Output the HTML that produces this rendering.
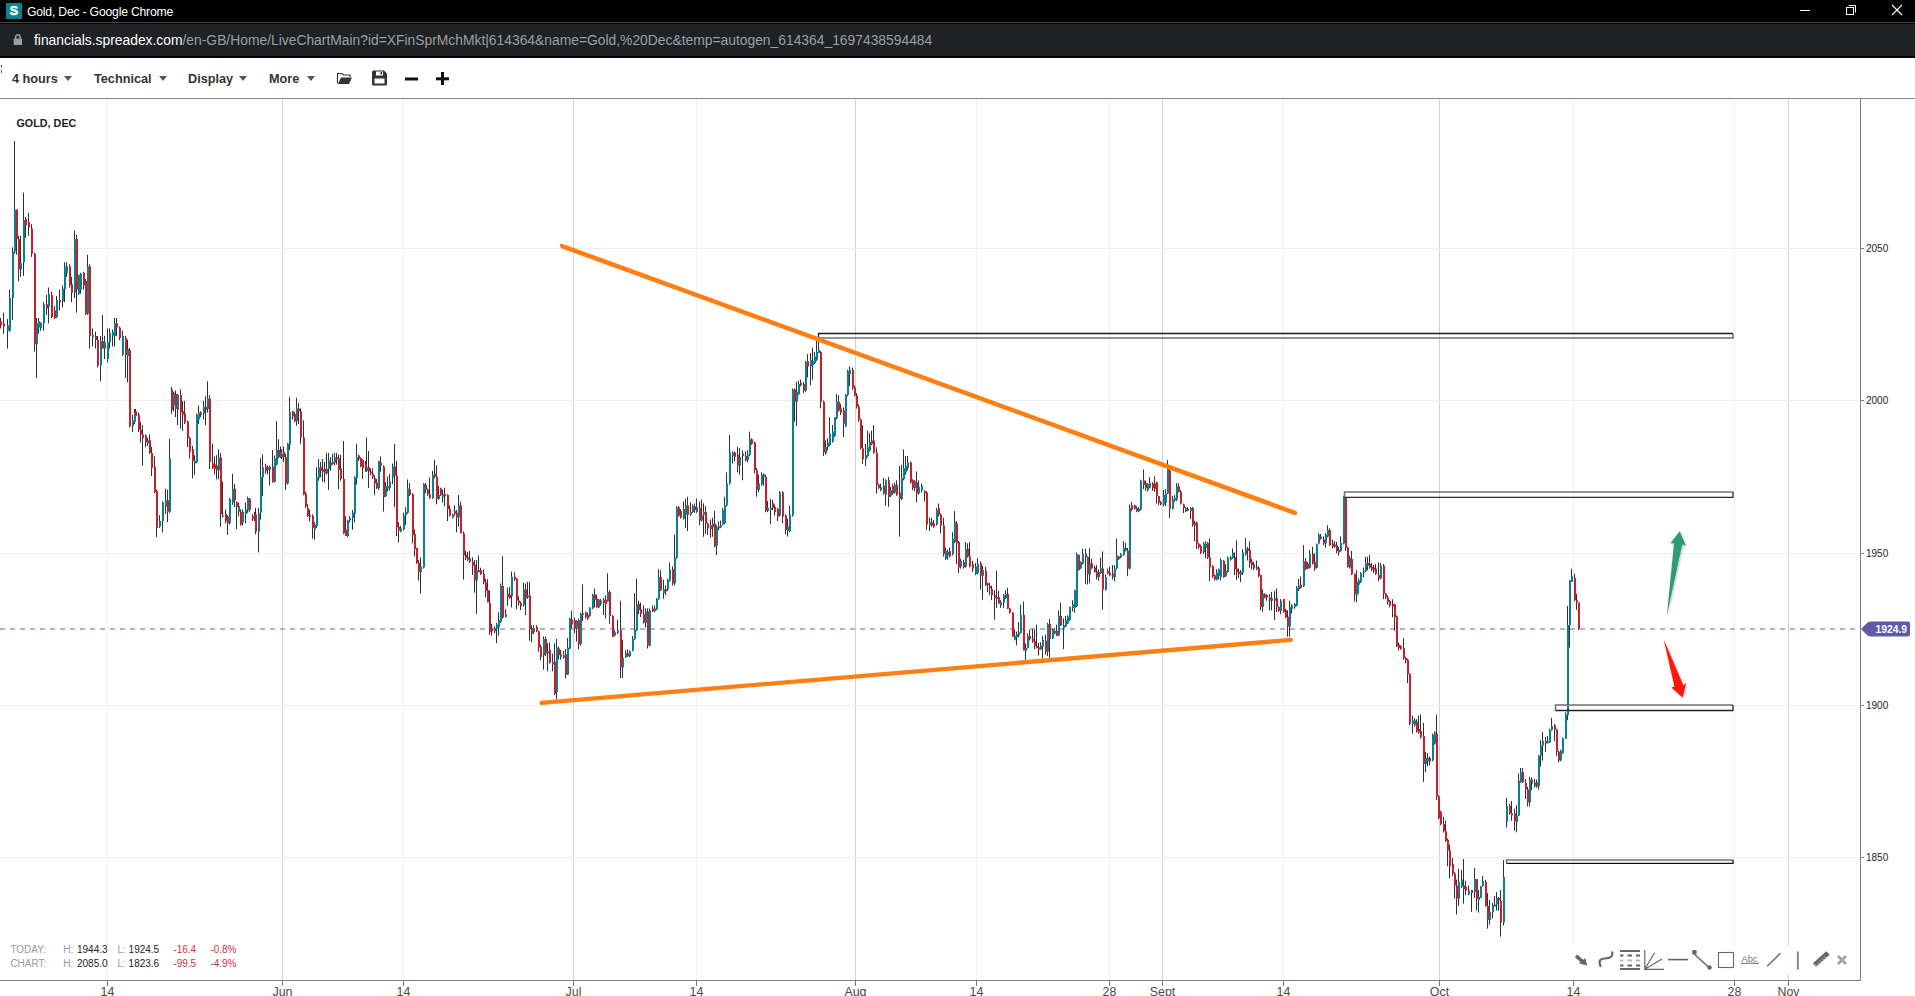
<!DOCTYPE html>
<html><head><meta charset="utf-8"><title>Gold, Dec</title>
<style>
html,body{margin:0;padding:0;width:1915px;height:996px;overflow:hidden;background:#fff;font-family:"Liberation Sans",sans-serif;}
#top{position:absolute;left:0;top:0;width:1915px;height:22px;background:#000;}
#tline{position:absolute;left:0;top:22px;width:1915px;height:1px;background:#4a4a4a;}
#tblk{position:absolute;left:0;top:23px;width:1915px;height:1px;background:#000;}
#addr{position:absolute;left:0;top:24px;width:1915px;height:32px;background:#202124;}
#ablk{position:absolute;left:0;top:56px;width:1915px;height:2px;background:#000;}
#ttl{position:absolute;left:27px;top:2.6px;color:#fff;font-size:12.2px;letter-spacing:-0.2px;line-height:18px;white-space:nowrap;}
#favi{position:absolute;left:6px;top:3px;width:16px;height:16px;background:#05838f;color:#fff;font-weight:bold;font-family:"Liberation Sans",sans-serif;font-size:12.5px;line-height:16.5px;text-align:center;-webkit-text-stroke:0.6px #fff;}
#url{position:absolute;left:34px;top:31px;font-size:13.85px;line-height:18px;color:#9aa0a6;white-space:nowrap;}
#url b{font-weight:normal;color:#fff;}
#tbar{position:absolute;left:0;top:58px;width:1915px;height:40px;background:#fff;}
#tbb{position:absolute;left:0;top:98px;width:1915px;height:1px;background:#8a8a8a;}
.mi{position:absolute;top:71px;font-size:12.7px;font-weight:bold;color:#333;line-height:16px;white-space:nowrap;}
.tri{position:absolute;top:76px;width:0;height:0;border-left:4.5px solid transparent;border-right:4.5px solid transparent;border-top:5px solid #555;}
svg{position:absolute;left:0;top:0;}
#chart text{font-family:"Liberation Sans",sans-serif;}
</style></head><body>
<div id="top"></div><div id="tline"></div><div id="tblk"></div><div id="addr"></div><div id="ablk"></div>
<div id="favi">S</div>
<div id="ttl">Gold, Dec - Google Chrome</div>
<svg width="1915" height="58" style="left:0;top:0">
 <rect x="1800" y="10" width="10" height="1" fill="#fff"/>
 <rect x="1846.5" y="7.5" width="7" height="7" fill="none" stroke="#fff" stroke-width="1"/>
 <path d="M1848.5 5.5 H1855.5 V12.5" fill="none" stroke="#fff" stroke-width="1"/>
 <path d="M1892 5 L1902 15 M1902 5 L1892 15" stroke="#fff" stroke-width="1.1"/>
 <path d="M15.6 39 v-1.6 a2.3 2.6 0 0 1 4.6 0 v1.6" fill="none" stroke="#9aa0a6" stroke-width="1.5"/>
 <rect x="13.7" y="38.6" width="8.4" height="6.4" rx="0.6" fill="#9aa0a6"/>
</svg>
<div id="url"><b>financials.spreadex.com</b>/en-GB/Home/LiveChartMain?id=XFinSprMchMkt|614364&amp;name=Gold,%20Dec&amp;temp=autogen_614364_1697438594484</div>
<div id="tbar"></div><div id="tbb"></div>
<div style="position:absolute;left:1px;top:65px;width:1px;height:1.5px;background:#503060"></div><div style="position:absolute;left:1px;top:70px;width:1px;height:2.5px;background:#4060a0"></div>
<div class="mi" style="left:12px">4 hours</div><div class="tri" style="left:64px"></div>
<div class="mi" style="left:94px">Technical</div><div class="tri" style="left:159px"></div>
<div class="mi" style="left:188px">Display</div><div class="tri" style="left:239px"></div>
<div class="mi" style="left:269px">More</div><div class="tri" style="left:307px"></div>
<svg width="1915" height="99" style="left:0;top:0">
 <path d="M337.5 83.5 V73.5 H342 L343.5 75 H350 V77" fill="none" stroke="#333" stroke-width="1.2"/>
 <path d="M338 84 L341 77.5 H352 L349 84 Z" fill="#333"/>
 <path d="M372 72 a1.5 1.5 0 0 1 1.5 -1.5 H384 L387 73.5 V84 a1.5 1.5 0 0 1 -1.5 1.5 H373.5 a1.5 1.5 0 0 1 -1.5 -1.5 Z" fill="#333"/>
 <rect x="374.5" y="78.5" width="10" height="5" fill="#fff"/>
 <rect x="376" y="71.5" width="7" height="4" fill="#fff"/>
 <rect x="380.5" y="72" width="1.5" height="2.5" fill="#333"/>
 <rect x="405" y="77.5" width="13" height="3" fill="#111"/>
 <rect x="436" y="77.3" width="13" height="3" fill="#111"/>
 <rect x="441" y="72" width="3" height="13" fill="#111"/>
</svg>
<svg id="chart" width="1915" height="996" style="left:0;top:0">
<rect x="107" y="99" width="1" height="881" fill="#f0f0f0"/>
<rect x="403" y="99" width="1" height="881" fill="#f0f0f0"/>
<rect x="696" y="99" width="1" height="881" fill="#f0f0f0"/>
<rect x="976" y="99" width="1" height="881" fill="#f0f0f0"/>
<rect x="1109" y="99" width="1" height="881" fill="#f0f0f0"/>
<rect x="1283" y="99" width="1" height="881" fill="#f0f0f0"/>
<rect x="1573" y="99" width="1" height="881" fill="#f0f0f0"/>
<rect x="1734" y="99" width="1" height="881" fill="#f0f0f0"/>
<rect x="282" y="99" width="1" height="881" fill="#d3d3d3"/>
<rect x="573" y="99" width="1" height="881" fill="#d3d3d3"/>
<rect x="855" y="99" width="1" height="881" fill="#d3d3d3"/>
<rect x="1162" y="99" width="1" height="881" fill="#d3d3d3"/>
<rect x="1439" y="99" width="1" height="881" fill="#d3d3d3"/>
<rect x="1788" y="99" width="1" height="881" fill="#d3d3d3"/>
<rect x="0" y="248" width="1860" height="1" fill="#eeeeee"/>
<rect x="0" y="400" width="1860" height="1" fill="#eeeeee"/>
<rect x="0" y="553" width="1860" height="1" fill="#eeeeee"/>
<rect x="0" y="705" width="1860" height="1" fill="#eeeeee"/>
<rect x="0" y="857" width="1860" height="1" fill="#eeeeee"/>
<text x="16.5" y="127" font-size="10.7" font-weight="bold" fill="#222" letter-spacing="0.05">GOLD, DEC</text>
<line x1="0" y1="629" x2="1860" y2="629" stroke="#b3afd9" stroke-width="1.8" stroke-dasharray="5 5"/>
<path d="M0.5 318.0V328.5M3.5 312.7V333.8M7.5 319.1V348.6M9.5 289.6V331.7M12.5 247.4V320.1M14.5 141.0V253.7M16.5 209.5V254.8M18.5 235.8V281.1M20.5 235.8V276.9M23.5 192.6V275.9M25.5 216.9V237.9M28.5 212.7V235.8M31.5 224.2V256.9M34.5 252.7V351.7M36.5 318.0V378.1M38.5 318.0V333.8M40.5 322.2V330.7M43.5 302.2V330.7M46.5 294.8V314.9M48.5 287.5V323.3M51.5 291.7V318.0M54.5 306.4V319.1M56.5 295.9V318.0M59.5 289.6V310.6M62.5 285.4V307.5M64.5 262.2V302.2M66.5 262.2V276.9M69.5 264.3V287.5M71.5 276.9V302.2M74.5 230.6V298.0M76.5 234.8V312.7M78.5 274.8V294.8M80.5 272.7V293.8M83.5 271.7V289.6M85.5 279.0V314.9M87.5 254.8V314.9M89.5 264.3V348.6M92.5 328.5V346.5M95.5 331.7V348.6M97.5 335.9V367.5M100.5 335.9V381.2M102.5 314.9V348.6M104.5 335.9V359.1M107.5 328.5V362.3M109.5 328.5V348.6M112.5 329.6V346.5M114.5 318.0V346.5M116.5 318.0V335.9M119.5 326.4V340.1M122.5 330.7V355.9M125.5 335.9V378.1M127.5 339.7V382.4M129.5 347.8V427.5M132.5 414.8V432.1M134.5 409.0V424.0M135.5 409.0V418.2M138.5 412.5V432.1M140.5 421.7V442.5M142.5 425.2V465.6M145.5 434.4V447.1M147.5 437.9V445.9M149.5 434.4V454.0M151.5 447.1V476.0M154.5 456.3V493.3M156.5 489.8V537.2M159.5 515.2V527.9M162.5 501.4V532.5M165.5 488.7V514.1M167.5 489.8V522.2M169.5 439.0V512.9M171.5 387.0V413.6M173.5 391.7V411.3M175.5 390.5V417.1M177.5 394.0V425.2M180.5 389.4V428.6M182.5 400.9V430.9M184.5 400.9V424.0M187.5 420.5V447.1M189.5 436.7V458.6M192.5 445.9V478.3M194.5 455.2V474.8M196.5 413.6V463.3M198.5 405.5V424.0M200.5 411.3V417.1M203.5 400.9V419.4M205.5 396.3V425.2M207.5 381.3V412.5M209.5 395.1V469.0M212.5 443.6V469.0M214.5 456.3V474.8M216.5 455.2V479.4M218.5 449.4V479.4M220.5 452.9V526.8M222.5 481.7V517.5M225.5 509.4V523.3M227.5 515.2V534.9M229.5 497.9V524.5M232.5 473.7V504.8M234.5 484.0V507.1M236.5 501.4V529.1M238.5 502.5V516.4M240.5 509.4V525.6M242.5 509.4V525.6M245.5 502.5V523.3M247.5 496.7V512.9M249.5 497.9V511.8M252.5 514.1V521.0M254.5 511.8V521.0M255.5 508.0V534.2M258.5 508.0V552.3M260.5 458.2V519.7M262.5 454.6V496.2M265.5 463.7V473.6M267.5 465.5V474.5M269.5 465.5V485.4M272.5 450.1V482.6M274.5 455.5V482.6M276.5 421.2V465.5M278.5 439.2V458.2M280.5 446.5V458.2M281.5 449.2V459.1M283.5 446.5V461.9M285.5 453.7V489.9M287.5 442.9V484.5M289.5 396.8V450.1M292.5 411.2V419.4M294.5 412.1V422.1M296.5 397.7V425.7M298.5 403.1V423.9M300.5 408.5V443.8M303.5 420.3V495.3M305.5 491.7V508.0M307.5 504.3V517.0M309.5 509.8V521.5M312.5 514.3V538.7M314.5 522.4V539.6M316.5 467.3V527.9M318.5 459.1V480.8M320.5 461.9V477.2M322.5 459.1V481.7M324.5 461.9V482.6M326.5 452.8V474.5M328.5 452.8V489.9M330.5 457.3V470.9M332.5 453.7V464.6M334.5 452.8V465.5M336.5 452.8V464.6M338.5 454.6V489.0M340.5 454.6V480.8M343.5 441.1V534.2M345.5 516.1V536.0M347.5 519.7V536.9M349.5 516.1V522.4M352.5 509.8V529.7M354.5 476.3V522.4M356.5 443.8V484.5M358.5 454.6V460.9M360.5 457.3V467.3M362.5 459.1V479.0M365.5 460.9V471.8M366.5 437.4V471.8M368.5 451.0V488.1M370.5 468.2V475.4M372.5 468.2V479.0M374.5 475.4V495.3M376.5 479.0V489.0M378.5 460.9V489.9M380.5 456.4V471.8M383.5 465.5V511.6M385.5 482.1V497.0M387.5 476.6V491.4M389.5 473.8V490.5M392.5 463.6V484.0M394.5 444.1V507.2M396.5 460.8V536.0M398.5 522.1V542.5M400.5 525.8V532.3M403.5 512.8V530.4M405.5 507.2V524.9M407.5 479.4V513.7M409.5 483.1V496.1M412.5 493.3V543.4M414.5 529.5V556.4M416.5 548.1V563.8M418.5 560.1V580.6M420.5 557.3V593.6M423.5 483.1V568.5M425.5 483.1V493.3M427.5 488.6V496.1M429.5 477.5V498.9M432.5 471.0V498.9M434.5 459.9V478.4M436.5 465.4V504.4M438.5 485.9V499.8M440.5 487.7V496.1M442.5 489.6V502.6M444.5 487.7V506.3M447.5 494.2V521.1M449.5 505.4V516.5M452.5 513.7V518.4M454.5 505.4V515.6M456.5 510.0V532.3M458.5 495.1V526.7M460.5 501.6V533.2M463.5 531.4V579.6M465.5 550.8V560.1M467.5 551.8V561.1M469.5 550.8V562.9M472.5 557.3V575.0M474.5 560.1V592.6M476.5 560.1V614.0M478.5 555.5V572.2M480.5 567.6V575.0M483.5 569.4V584.3M485.5 578.7V597.3M487.5 579.2V602.3M489.5 590.3V634.7M491.5 623.6V635.6M494.5 626.2V633.0M496.5 622.8V643.2M498.5 612.5V635.6M500.5 583.5V622.8M502.5 556.2V618.5M505.5 609.1V617.6M507.5 587.8V605.7M509.5 586.9V598.9M511.5 571.6V607.4M514.5 572.4V581.0M516.5 578.4V609.1M518.5 596.3V605.7M520.5 601.4V610.0M523.5 582.7V606.6M525.5 583.5V615.1M527.5 581.8V598.9M529.5 581.8V640.7M531.5 625.3V642.4M533.5 625.3V633.9M536.5 625.3V632.2M538.5 630.4V651.8M540.5 644.9V660.3M543.5 636.4V669.7M545.5 636.4V656.0M547.5 643.2V671.4M549.5 642.4V663.7M552.5 653.5V671.4M554.5 643.2V695.3M556.5 639.0V699.6M558.5 646.7V659.5M560.5 650.1V659.5M563.5 650.9V658.6M565.5 649.2V678.2M567.5 638.1V674.8M569.5 617.6V649.2M571.5 610.8V628.7M574.5 617.6V633.0M576.5 620.2V641.5M578.5 618.5V649.2M580.5 612.5V645.8M582.5 584.4V621.1M585.5 611.7V618.5M587.5 612.5V620.2M589.5 607.4V616.8M592.5 593.8V609.1M594.5 588.6V607.4M596.5 594.6V607.4M598.5 598.9V608.3M600.5 598.9V605.7M603.5 598.0V615.1M605.5 595.5V618.5M607.5 573.3V601.4M609.5 590.3V623.6M612.5 615.1V637.3M614.5 630.4V636.4M617.5 619.8V634.1M620.5 600.7V678.0M622.5 639.9V678.0M625.5 650.4V658.0M627.5 649.4V657.0M629.5 650.4V657.0M632.5 636.0V651.3M634.5 593.1V639.9M636.5 578.8V631.3M638.5 600.7V614.1M640.5 602.6V617.0M643.5 605.5V623.6M645.5 608.4V627.5M647.5 608.4V648.5M649.5 608.4V646.5M652.5 605.5V612.2M654.5 605.5V612.2M656.5 597.9V610.3M658.5 569.2V599.8M660.5 570.2V591.2M663.5 579.7V598.8M665.5 585.5V595.0M667.5 578.8V591.2M669.5 562.5V581.6M672.5 566.4V585.5M674.5 534.9V585.5M676.5 506.2V558.7M678.5 506.2V516.7M680.5 509.1V518.6M683.5 501.5V519.6M685.5 498.6V528.2M687.5 496.7V531.0M690.5 502.4V515.8M692.5 504.3V512.9M694.5 503.4V512.9M696.5 498.6V512.9M699.5 501.5V525.3M701.5 499.5V521.5M703.5 503.4V536.8M705.5 506.2V533.9M707.5 522.5V534.9M710.5 519.6V537.7M712.5 517.7V536.8M714.5 511.0V547.3M716.5 525.3V554.9M718.5 521.5V530.1M720.5 520.5V528.2M722.5 508.1V525.3M724.5 496.7V524.3M726.5 472.4V506.7M729.5 434.9V484.6M732.5 451.4V463.6M734.5 451.4V461.4M737.5 447.0V472.4M739.5 448.1V474.6M742.5 450.3V480.2M745.5 451.4V461.4M747.5 450.3V462.5M749.5 431.6V455.9M751.5 438.2V444.8M754.5 441.5V473.5M756.5 468.0V496.7M758.5 474.6V492.3M761.5 472.4V485.7M763.5 473.5V485.7M765.5 474.6V512.2M767.5 501.1V512.2M770.5 498.9V524.3M772.5 500.0V510.0M774.5 504.4V515.5M777.5 507.8V521.0M779.5 491.2V516.6M782.5 491.2V523.2M785.5 514.4V534.3M787.5 518.8V536.5M789.5 505.6V532.1M792.5 388.5V516.6M794.5 388.5V421.6M796.5 381.9V426.0M798.5 380.7V395.1M800.5 379.6V386.3M803.5 381.9V392.9M805.5 360.9V391.8M807.5 354.2V377.4M810.5 353.1V385.2M812.5 347.6V379.6M814.5 352.0V364.2M816.5 339.9V360.9M818.5 336.6V353.1M820.5 350.9V408.4M823.5 400.6V455.9M825.5 440.4V454.7M827.5 438.2V450.3M829.5 417.2V445.9M832.5 424.9V442.6M834.5 417.2V437.1M836.5 394.0V419.4M838.5 395.1V411.7M840.5 403.9V415.0M843.5 407.3V437.1M845.5 394.0V427.1M847.5 369.7V396.2M849.5 366.4V386.3M852.5 367.7V389.8M854.5 385.4V396.4M856.5 393.1V408.6M858.5 404.2V421.8M860.5 418.5V449.4M862.5 425.1V463.8M865.5 443.9V466.0M867.5 430.6V457.1M869.5 432.8V451.6M871.5 430.6V445.0M873.5 425.1V453.8M876.5 447.2V493.6M878.5 483.6V489.1M880.5 483.6V491.3M883.5 478.1V494.7M885.5 479.2V505.7M888.5 477.0V506.8M890.5 486.9V496.9M892.5 483.6V494.7M894.5 482.5V493.6M896.5 480.3V495.8M899.5 466.0V536.6M901.5 464.9V500.2M903.5 449.4V480.3M905.5 456.0V474.8M907.5 456.0V470.4M910.5 461.5V483.6M912.5 479.2V490.2M914.5 480.3V491.3M916.5 471.5V502.4M918.5 480.3V494.7M921.5 483.6V492.5M924.5 490.2V501.3M926.5 491.3V530.0M929.5 517.8V531.1M931.5 517.8V526.7M933.5 520.0V527.8M936.5 507.9V525.6M938.5 503.5V516.7M940.5 513.4V533.3M943.5 517.8V556.5M945.5 547.6V559.8M947.5 549.8V559.8M949.5 547.6V557.6M952.5 532.2V555.4M954.5 511.2V543.2M956.5 521.1V564.2M958.5 541.0V573.0M960.5 558.7V568.6M963.5 559.8V568.6M965.5 542.1V567.5M967.5 543.2V557.6M969.5 542.1V567.5M972.5 560.9V571.9M975.5 563.1V575.2M977.5 558.2V574.5M980.5 561.3V589.6M982.5 565.7V599.6M985.5 567.0V585.8M987.5 582.7V592.1M989.5 582.7V595.2M991.5 585.8V600.2M994.5 590.2V619.7M996.5 570.7V607.8M998.5 590.8V604.0M1000.5 600.2V607.8M1003.5 594.0V607.8M1005.5 590.2V599.0M1007.5 587.7V609.0M1009.5 607.8V613.4M1012.5 612.1V637.2M1014.5 629.7V640.4M1016.5 631.6V645.4M1018.5 622.2V637.2M1020.5 604.6V633.5M1023.5 601.5V650.4M1025.5 643.5V659.8M1027.5 633.5V648.5M1029.5 629.7V640.4M1032.5 629.1V642.9M1034.5 629.7V649.2M1036.5 624.7V648.5M1038.5 642.9V655.4M1040.5 642.3V649.8M1042.5 636.0V658.6M1045.5 634.7V654.8M1047.5 622.8V656.1M1049.5 619.0V657.9M1052.5 628.5V639.1M1054.5 628.5V634.1M1056.5 624.7V636.0M1058.5 610.3V636.0M1060.5 602.7V625.9M1063.5 618.4V649.2M1065.5 615.9V627.2M1067.5 615.3V624.1M1069.5 606.5V620.9M1072.5 600.2V611.5M1074.5 589.6V612.8M1076.5 552.5V607.1M1078.5 554.4V570.7M1080.5 561.3V568.9M1082.5 548.8V564.5M1085.5 548.8V583.9M1087.5 556.3V584.5M1089.5 548.2V583.3M1091.5 558.8V568.9M1094.5 565.7V572.6M1096.5 565.1V579.5M1098.5 569.5V580.8M1100.5 557.6V573.9M1102.5 551.4V609.4M1105.5 574.5V590.7M1107.5 568.5V574.5M1109.5 566.8V576.2M1112.5 565.1V579.6M1114.5 565.1V581.3M1116.5 538.6V569.3M1118.5 555.7V559.9M1120.5 553.1V558.2M1123.5 541.2V555.7M1125.5 542.9V551.4M1127.5 548.0V576.2M1129.5 504.5V569.3M1131.5 501.9V511.3M1134.5 504.5V509.6M1136.5 506.2V512.2M1138.5 507.0V512.2M1140.5 479.7V510.5M1143.5 469.5V489.1M1145.5 480.6V490.8M1147.5 483.2V491.7M1149.5 477.2V488.3M1152.5 482.3V490.8M1154.5 476.3V491.7M1156.5 481.5V503.6M1158.5 496.0V505.3M1160.5 501.1V505.3M1163.5 490.0V506.2M1165.5 489.1V506.2M1167.5 460.1V494.2M1169.5 469.5V518.1M1172.5 496.0V509.6M1174.5 495.1V501.9M1176.5 483.2V501.1M1178.5 483.2V492.5M1180.5 490.0V504.5M1183.5 503.6V513.0M1185.5 507.0V512.2M1187.5 507.0V511.3M1190.5 507.0V519.0M1192.5 507.0V526.7M1194.5 520.7V541.2M1196.5 521.6V548.9M1198.5 542.9V548.9M1200.5 544.6V554.0M1203.5 542.0V554.0M1205.5 541.2V558.2M1207.5 542.0V559.1M1209.5 538.6V581.3M1212.5 565.1V577.9M1214.5 574.5V580.4M1216.5 569.3V580.4M1218.5 568.5V579.6M1220.5 558.2V580.4M1223.5 559.9V577.9M1225.5 564.2V577.0M1227.5 556.5V572.7M1230.5 555.7V560.5M1232.5 548.5V558.9M1234.5 552.5V575.0M1236.5 540.4V579.8M1238.5 568.5V578.2M1240.5 570.1V582.2M1242.5 549.3V575.0M1245.5 538.0V555.7M1247.5 546.8V560.5M1249.5 541.2V567.7M1251.5 558.9V569.3M1253.5 562.1V570.1M1256.5 560.5V570.1M1258.5 566.1V577.4M1260.5 575.0V610.3M1262.5 589.4V611.9M1264.5 593.4V598.3M1266.5 594.2V600.7M1269.5 594.2V610.3M1271.5 591.8V610.3M1274.5 591.0V619.9M1276.5 588.6V611.9M1278.5 606.3V611.9M1280.5 599.1V614.3M1283.5 599.1V612.7M1285.5 608.7V618.3M1287.5 610.3V636.8M1289.5 600.7V636.8M1291.5 603.9V613.5M1294.5 603.1V608.7M1296.5 586.2V606.3M1298.5 579.0V591.0M1300.5 576.6V588.6M1303.5 545.2V587.0M1305.5 558.1V570.1M1307.5 562.1V569.3M1309.5 550.1V568.5M1312.5 546.8V564.5M1314.5 553.3V570.9M1316.5 543.6V568.5M1318.5 533.2V544.4M1320.5 534.0V539.6M1323.5 536.4V545.2M1325.5 533.2V547.7M1327.5 525.2V537.2M1329.5 528.4V546.0M1332.5 539.6V548.5M1334.5 541.2V547.7M1336.5 542.0V553.3M1338.5 546.8V555.7M1340.5 536.4V551.7M1343.5 496.2V544.4M1345.5 497.0V550.9M1347.5 546.8V567.7M1349.5 555.7V568.5M1351.5 550.9V575.0M1354.5 573.4V601.5M1356.5 570.1V602.3M1357.5 582.1V594.7M1358.5 578.5V585.7M1360.5 572.1V583.0M1363.5 567.6V577.6M1365.5 556.8V572.1M1367.5 556.8V570.3M1369.5 555.0V568.5M1371.5 563.1V571.2M1373.5 564.9V573.1M1375.5 564.0V574.9M1378.5 562.2V581.2M1380.5 563.1V579.4M1383.5 564.0V599.2M1385.5 592.9V599.2M1387.5 595.6V604.6M1389.5 600.1V607.3M1392.5 599.2V617.3M1394.5 603.7V630.8M1396.5 615.5V647.1M1398.5 642.5V650.7M1400.5 645.3V649.8M1403.5 638.0V659.7M1405.5 657.0V663.3M1407.5 658.8V683.2M1409.5 673.2V725.3M1412.5 715.7V733.7M1414.5 718.1V726.5M1416.5 719.3V732.5M1418.5 715.7V733.7M1420.5 714.5V738.6M1423.5 722.9V781.9M1425.5 751.8V772.3M1427.5 753.0V766.3M1429.5 756.6V765.1M1432.5 733.7V761.4M1434.5 731.3V744.6M1436.5 714.5V800.0M1438.5 795.2V819.3M1440.5 810.8V825.3M1443.5 816.9V832.5M1445.5 820.5V842.2M1447.5 838.6V866.3M1449.5 844.6V878.3M1452.5 857.8V875.9M1454.5 872.3V898.8M1456.5 879.5V914.5M1458.5 868.7V906.0M1461.5 869.9V888.0M1463.5 859.0V903.6M1465.5 880.7V895.2M1468.5 885.5V895.2M1471.5 890.0V911.8M1474.5 868.0V897.8M1476.5 879.0V910.6M1478.5 890.0V912.6M1480.5 886.0V898.0M1482.5 876.0V886.5M1485.5 880.0V906.6M1487.5 893.0V928.7M1489.5 900.0V924.7M1492.5 903.0V918.6M1494.5 896.0V906.6M1496.5 892.0V910.6M1498.5 897.0V910.6M1500.5 890.0V936.7M1503.5 860.0V925.5M1506.5 797.8V827.5M1509.5 803.8V814.7M1511.5 801.1V820.8M1514.5 808.6V830.9M1516.5 805.2V832.3M1518.5 773.4V816.0M1520.5 768.0V782.9M1522.5 768.0V782.9M1525.5 778.8V799.1M1527.5 786.9V806.6M1529.5 776.8V806.6M1531.5 777.4V790.3M1534.5 778.8V787.6M1536.5 779.5V787.6M1538.5 755.1V789.6M1540.5 740.2V766.6M1542.5 732.1V760.5M1545.5 736.8V751.7M1547.5 736.1V743.6M1549.5 728.7V742.9M1551.5 717.9V730.7M1554.5 724.0V740.9M1556.5 728.7V755.8M1558.5 751.0V762.5M1560.5 749.7V761.2M1562.5 737.5V753.7M1565.5 712.4V738.9M1567.5 605.8V720.2M1569.5 580.1V647.6M1571.5 568.8V581.7M1574.5 573.7V601.0M1576.5 593.7V609.8M1578.5 602.6V629.9" stroke="#2b3238" stroke-width="1" fill="none"/>
<path d="M7 325.4h2V330.7h-2ZM9 298.0h2V330.7h-2ZM12 251.6h2V298.0h-2ZM14 209.5h2V251.6h-2ZM20 263.2h2V269.5h-2ZM23 220.0h2V262.2h-2ZM36 323.3h2V344.3h-2ZM38 321.2h2V327.5h-2ZM40 323.3h2V328.5h-2ZM43 304.3h2V323.3h-2ZM48 293.8h2V306.4h-2ZM56 300.1h2V317.0h-2ZM62 288.5h2V301.2h-2ZM64 266.4h2V289.6h-2ZM66 266.4h2V272.7h-2ZM74 239.0h2V292.7h-2ZM78 274.8h2V293.8h-2ZM80 273.8h2V289.6h-2ZM87 266.4h2V313.8h-2ZM92 334.9h2V337.0h-2ZM100 341.2h2V365.4h-2ZM104 342.2h2V348.6h-2ZM107 342.2h2V359.1h-2ZM109 332.8h2V342.2h-2ZM112 331.7h2V335.9h-2ZM114 323.3h2V335.9h-2ZM122 335.9h2V354.9h-2ZM127 348.9h2V355.9h-2ZM132 420.5h2V426.3h-2ZM134 412.5h2V421.7h-2ZM147 440.2h2V443.6h-2ZM159 521.0h2V526.8h-2ZM162 502.5h2V521.0h-2ZM165 500.2h2V507.1h-2ZM169 458.6h2V511.8h-2ZM173 392.8h2V405.5h-2ZM177 395.1h2V410.1h-2ZM194 460.9h2V463.3h-2ZM196 414.8h2V462.1h-2ZM198 412.5h2V419.4h-2ZM203 406.7h2V413.6h-2ZM207 398.6h2V409.0h-2ZM218 457.5h2V470.2h-2ZM222 515.2h2V516.4h-2ZM229 499.1h2V523.3h-2ZM232 488.7h2V502.5h-2ZM238 506.0h2V511.8h-2ZM242 511.8h2V522.2h-2ZM245 509.4h2V514.1h-2ZM247 497.9h2V510.6h-2ZM258 513.4h2V531.5h-2ZM260 477.2h2V512.5h-2ZM262 467.3h2V477.2h-2ZM269 466.4h2V470.0h-2ZM274 458.2h2V481.7h-2ZM276 450.1h2V464.6h-2ZM280 451.9h2V457.3h-2ZM281 453.7h2V457.3h-2ZM287 443.8h2V483.6h-2ZM289 412.1h2V444.7h-2ZM296 408.5h2V421.2h-2ZM314 525.1h2V529.7h-2ZM316 477.2h2V526.0h-2ZM318 467.3h2V478.1h-2ZM326 469.1h2V473.6h-2ZM328 460.9h2V469.1h-2ZM334 457.3h2V462.8h-2ZM347 520.6h2V536.0h-2ZM349 517.9h2V520.6h-2ZM352 512.5h2V517.9h-2ZM354 477.2h2V513.4h-2ZM356 457.3h2V478.1h-2ZM366 467.3h2V470.9h-2ZM378 460.9h2V488.1h-2ZM385 485.9h2V496.1h-2ZM387 485.9h2V488.6h-2ZM389 481.2h2V487.7h-2ZM392 466.4h2V477.5h-2ZM400 528.6h2V531.4h-2ZM403 515.6h2V529.5h-2ZM405 511.9h2V515.6h-2ZM407 488.6h2V512.8h-2ZM420 566.6h2V572.2h-2ZM423 484.0h2V567.6h-2ZM432 474.7h2V497.9h-2ZM438 495.1h2V498.9h-2ZM442 494.2h2V497.0h-2ZM452 514.6h2V517.4h-2ZM458 505.4h2V517.4h-2ZM467 557.3h2V560.1h-2ZM476 570.3h2V580.6h-2ZM494 627.9h2V631.3h-2ZM496 624.5h2V628.7h-2ZM498 620.2h2V627.0h-2ZM500 586.1h2V621.9h-2ZM505 614.2h2V616.8h-2ZM511 576.7h2V596.3h-2ZM523 589.5h2V604.8h-2ZM527 595.5h2V597.2h-2ZM533 627.9h2V632.2h-2ZM543 639.0h2V655.2h-2ZM547 650.9h2V653.5h-2ZM552 662.0h2V664.6h-2ZM556 647.5h2V691.9h-2ZM560 654.3h2V656.9h-2ZM563 655.2h2V657.7h-2ZM567 647.5h2V674.8h-2ZM569 618.5h2V648.4h-2ZM576 621.1h2V628.7h-2ZM580 613.4h2V644.1h-2ZM589 607.4h2V615.9h-2ZM592 594.6h2V608.3h-2ZM598 599.7h2V607.4h-2ZM600 600.6h2V604.0h-2ZM607 592.0h2V601.4h-2ZM614 632.2h2V635.6h-2ZM617 630.3h2V633.2h-2ZM622 658.0h2V667.5h-2ZM625 653.2h2V657.0h-2ZM629 651.3h2V656.1h-2ZM632 638.9h2V650.4h-2ZM634 629.4h2V638.9h-2ZM636 604.5h2V630.3h-2ZM645 611.2h2V622.7h-2ZM649 610.3h2V645.6h-2ZM654 608.4h2V611.2h-2ZM656 598.8h2V609.3h-2ZM658 576.9h2V598.8h-2ZM663 589.3h2V593.1h-2ZM667 579.7h2V589.3h-2ZM669 569.2h2V580.7h-2ZM674 557.8h2V583.5h-2ZM676 507.2h2V557.8h-2ZM683 509.1h2V518.6h-2ZM685 505.3h2V514.8h-2ZM690 512.0h2V514.8h-2ZM692 506.2h2V512.0h-2ZM696 507.2h2V512.0h-2ZM701 515.8h2V520.5h-2ZM703 512.0h2V514.8h-2ZM712 523.4h2V527.2h-2ZM716 527.2h2V545.4h-2ZM718 526.3h2V528.2h-2ZM720 525.3h2V527.2h-2ZM722 510.0h2V524.4h-2ZM724 505.6h2V523.2h-2ZM726 483.5h2V505.6h-2ZM729 452.5h2V483.5h-2ZM732 452.5h2V455.9h-2ZM739 457.0h2V465.8h-2ZM742 453.6h2V455.9h-2ZM747 454.7h2V460.3h-2ZM749 439.3h2V454.7h-2ZM758 483.5h2V490.1h-2ZM761 474.6h2V484.6h-2ZM763 474.6h2V476.8h-2ZM767 507.8h2V511.1h-2ZM770 507.8h2V510.0h-2ZM779 492.3h2V515.5h-2ZM787 526.5h2V531.0h-2ZM789 514.4h2V531.0h-2ZM792 389.6h2V515.5h-2ZM796 391.8h2V401.7h-2ZM798 384.1h2V394.0h-2ZM805 362.0h2V390.7h-2ZM810 359.8h2V366.4h-2ZM812 360.9h2V365.3h-2ZM814 356.4h2V363.1h-2ZM816 352.0h2V359.8h-2ZM818 349.8h2V353.1h-2ZM825 447.0h2V453.6h-2ZM827 442.6h2V447.0h-2ZM829 433.8h2V444.8h-2ZM832 431.6h2V441.5h-2ZM834 417.2h2V436.0h-2ZM836 401.7h2V418.3h-2ZM845 395.1h2V426.0h-2ZM847 370.8h2V395.1h-2ZM849 369.7h2V374.1h-2ZM865 454.9h2V459.3h-2ZM867 447.2h2V456.0h-2ZM869 441.7h2V450.5h-2ZM880 486.9h2V490.2h-2ZM885 480.3h2V494.7h-2ZM890 490.2h2V495.8h-2ZM894 484.7h2V492.5h-2ZM901 478.1h2V499.1h-2ZM903 468.2h2V479.2h-2ZM905 466.0h2V472.6h-2ZM907 462.6h2V468.2h-2ZM914 481.4h2V488.0h-2ZM918 486.9h2V493.6h-2ZM921 485.8h2V490.2h-2ZM929 522.3h2V525.6h-2ZM936 510.1h2V524.5h-2ZM945 550.9h2V558.7h-2ZM947 552.1h2V555.4h-2ZM952 538.8h2V554.3h-2ZM954 522.3h2V542.1h-2ZM960 560.9h2V566.4h-2ZM965 548.7h2V566.4h-2ZM975 566.4h2V574.1h-2ZM977 563.8h2V573.2h-2ZM982 570.1h2V575.8h-2ZM987 583.3h2V585.2h-2ZM996 597.1h2V599.0h-2ZM1000 602.1h2V605.2h-2ZM1003 595.2h2V602.7h-2ZM1005 594.0h2V598.3h-2ZM1014 635.4h2V639.7h-2ZM1016 634.1h2V637.2h-2ZM1018 632.2h2V635.4h-2ZM1020 614.7h2V632.8h-2ZM1025 647.9h2V651.0h-2ZM1027 636.0h2V647.9h-2ZM1040 645.4h2V649.2h-2ZM1042 639.7h2V646.6h-2ZM1047 624.1h2V651.7h-2ZM1052 630.3h2V638.5h-2ZM1054 631.0h2V633.5h-2ZM1058 615.9h2V635.4h-2ZM1063 625.3h2V627.8h-2ZM1065 620.3h2V626.6h-2ZM1067 616.5h2V623.4h-2ZM1069 607.1h2V620.3h-2ZM1072 604.6h2V607.8h-2ZM1074 590.2h2V607.8h-2ZM1076 554.4h2V605.9h-2ZM1080 562.0h2V568.2h-2ZM1082 553.8h2V563.8h-2ZM1089 563.2h2V574.5h-2ZM1098 572.0h2V577.0h-2ZM1100 568.2h2V573.2h-2ZM1105 577.0h2V589.8h-2ZM1114 568.5h2V577.0h-2ZM1116 555.7h2V568.5h-2ZM1120 554.0h2V557.4h-2ZM1123 548.0h2V554.8h-2ZM1125 548.0h2V550.6h-2ZM1129 507.9h2V568.5h-2ZM1136 507.9h2V511.3h-2ZM1140 480.6h2V509.6h-2ZM1147 484.0h2V490.0h-2ZM1149 483.2h2V487.4h-2ZM1163 495.1h2V504.5h-2ZM1165 493.4h2V502.8h-2ZM1167 468.7h2V493.4h-2ZM1172 499.4h2V508.8h-2ZM1174 497.7h2V500.2h-2ZM1176 486.6h2V499.4h-2ZM1185 507.9h2V511.3h-2ZM1190 507.9h2V511.3h-2ZM1194 522.4h2V525.8h-2ZM1203 543.7h2V552.3h-2ZM1205 543.7h2V548.0h-2ZM1216 572.7h2V579.6h-2ZM1218 569.3h2V576.2h-2ZM1220 559.9h2V577.0h-2ZM1225 571.0h2V576.2h-2ZM1227 557.4h2V571.9h-2ZM1230 557.3h2V559.7h-2ZM1232 552.5h2V558.1h-2ZM1240 571.7h2V574.2h-2ZM1242 552.5h2V572.6h-2ZM1245 548.5h2V554.1h-2ZM1256 566.9h2V569.3h-2ZM1262 593.4h2V607.1h-2ZM1271 598.3h2V600.7h-2ZM1280 600.7h2V611.1h-2ZM1289 607.1h2V626.4h-2ZM1291 605.5h2V608.7h-2ZM1294 603.9h2V607.1h-2ZM1296 587.8h2V605.5h-2ZM1298 585.4h2V589.4h-2ZM1303 561.3h2V586.2h-2ZM1309 554.1h2V567.7h-2ZM1316 544.4h2V567.7h-2ZM1318 534.8h2V543.6h-2ZM1325 534.8h2V543.6h-2ZM1327 530.0h2V536.4h-2ZM1334 544.4h2V546.8h-2ZM1340 542.8h2V550.9h-2ZM1343 497.0h2V543.6h-2ZM1349 558.1h2V567.7h-2ZM1356 583.0h2V595.0h-2ZM1357 583.9h2V593.8h-2ZM1358 580.3h2V584.8h-2ZM1360 573.1h2V582.1h-2ZM1363 571.2h2V573.1h-2ZM1365 563.1h2V571.2h-2ZM1380 565.8h2V578.5h-2ZM1412 720.5h2V724.1h-2ZM1414 720.5h2V725.3h-2ZM1425 757.8h2V763.9h-2ZM1427 757.8h2V761.4h-2ZM1432 734.9h2V760.2h-2ZM1434 732.5h2V743.4h-2ZM1458 881.9h2V898.8h-2ZM1461 879.5h2V886.7h-2ZM1468 890.4h2V894.0h-2ZM1474 879.0h2V892.0h-2ZM1478 897.0h2V900.0h-2ZM1480 886.5h2V897.8h-2ZM1482 881.0h2V886.5h-2ZM1489 912.0h2V920.0h-2ZM1492 905.0h2V912.0h-2ZM1494 904.6h2V906.6h-2ZM1496 898.0h2V904.6h-2ZM1503 877.0h2V922.6h-2ZM1506 805.9h2V822.1h-2ZM1511 813.3h2V815.4h-2ZM1516 815.4h2V822.1h-2ZM1518 780.8h2V815.4h-2ZM1520 772.0h2V782.2h-2ZM1529 779.5h2V802.5h-2ZM1534 782.2h2V786.2h-2ZM1538 755.8h2V786.2h-2ZM1540 745.6h2V755.8h-2ZM1542 740.9h2V745.6h-2ZM1547 741.6h2V742.9h-2ZM1549 730.1h2V742.2h-2ZM1551 726.0h2V730.1h-2ZM1560 750.4h2V760.5h-2ZM1562 738.2h2V753.1h-2ZM1565 714.5h2V738.9h-2ZM1567 625.1h2V715.2h-2ZM1569 580.1h2V625.1h-2ZM1571 576.1h2V581.7h-2Z" fill="#0b7f8e"/>
<path d="M0 321.2h2V325.4h-2ZM3 323.3h2V326.4h-2ZM16 209.5h2V239.0h-2ZM18 239.0h2V269.5h-2ZM25 219.0h2V225.3h-2ZM28 222.1h2V227.4h-2ZM31 228.5h2V253.7h-2ZM34 253.7h2V344.3h-2ZM46 304.3h2V308.5h-2ZM51 294.8h2V317.0h-2ZM54 310.6h2V318.0h-2ZM59 300.1h2V302.2h-2ZM69 266.4h2V285.4h-2ZM71 284.3h2V292.7h-2ZM76 239.0h2V289.6h-2ZM83 272.7h2V285.4h-2ZM85 281.1h2V313.8h-2ZM89 266.4h2V335.9h-2ZM95 335.9h2V340.1h-2ZM97 340.1h2V365.4h-2ZM102 341.2h2V348.6h-2ZM116 323.3h2V327.5h-2ZM119 327.5h2V338.0h-2ZM125 338.0h2V354.9h-2ZM129 350.1h2V426.3h-2ZM135 411.3h2V415.9h-2ZM138 414.8h2V429.8h-2ZM140 429.8h2V434.4h-2ZM142 434.4h2V437.9h-2ZM145 435.5h2V442.5h-2ZM149 440.2h2V452.9h-2ZM151 452.9h2V467.9h-2ZM154 466.7h2V492.1h-2ZM156 491.0h2V527.9h-2ZM167 500.2h2V511.8h-2ZM171 389.4h2V410.1h-2ZM175 394.0h2V409.0h-2ZM180 395.1h2V412.5h-2ZM182 411.3h2V414.8h-2ZM184 413.6h2V422.8h-2ZM187 421.7h2V437.9h-2ZM189 437.9h2V451.7h-2ZM192 449.4h2V460.9h-2ZM200 412.5h2V414.8h-2ZM205 406.7h2V410.1h-2ZM209 398.6h2V462.1h-2ZM212 463.3h2V467.9h-2ZM214 464.4h2V469.0h-2ZM216 465.6h2V470.2h-2ZM220 457.5h2V514.1h-2ZM225 514.1h2V521.0h-2ZM227 516.4h2V523.3h-2ZM234 488.7h2V500.2h-2ZM236 502.5h2V507.1h-2ZM240 511.8h2V524.5h-2ZM249 499.1h2V509.4h-2ZM252 516.4h2V518.7h-2ZM254 515.2h2V518.7h-2ZM255 514.3h2V531.5h-2ZM265 466.4h2V470.9h-2ZM267 467.3h2V470.0h-2ZM272 466.4h2V481.7h-2ZM278 450.1h2V457.3h-2ZM283 451.9h2V457.3h-2ZM285 457.3h2V483.6h-2ZM292 411.2h2V416.6h-2ZM294 413.9h2V421.2h-2ZM298 408.5h2V411.2h-2ZM300 411.2h2V437.4h-2ZM303 437.4h2V494.4h-2ZM305 493.5h2V506.2h-2ZM307 508.0h2V516.1h-2ZM309 515.2h2V517.0h-2ZM312 516.1h2V527.9h-2ZM320 467.3h2V470.9h-2ZM322 469.1h2V471.8h-2ZM324 469.1h2V473.6h-2ZM330 462.8h2V465.5h-2ZM332 461.9h2V463.7h-2ZM336 457.3h2V459.1h-2ZM338 458.2h2V470.0h-2ZM340 468.2h2V479.0h-2ZM343 479.0h2V533.3h-2ZM345 529.7h2V536.0h-2ZM358 455.5h2V459.1h-2ZM360 458.2h2V466.4h-2ZM362 460.0h2V468.2h-2ZM365 464.6h2V469.1h-2ZM368 467.3h2V471.8h-2ZM370 471.8h2V473.6h-2ZM372 473.6h2V477.2h-2ZM374 478.1h2V483.6h-2ZM376 482.6h2V488.1h-2ZM380 462.8h2V465.5h-2ZM383 466.4h2V497.1h-2ZM394 466.4h2V475.6h-2ZM396 475.6h2V527.6h-2ZM398 526.7h2V530.4h-2ZM409 489.6h2V495.1h-2ZM412 494.2h2V535.1h-2ZM414 534.1h2V549.0h-2ZM416 548.1h2V562.9h-2ZM418 562.9h2V572.2h-2ZM425 484.9h2V489.6h-2ZM427 489.6h2V494.2h-2ZM429 494.2h2V497.9h-2ZM434 473.8h2V476.6h-2ZM436 476.6h2V498.9h-2ZM440 488.6h2V495.1h-2ZM444 494.2h2V496.1h-2ZM447 495.1h2V509.1h-2ZM449 509.1h2V515.6h-2ZM454 510.9h2V513.7h-2ZM456 512.8h2V517.4h-2ZM460 505.4h2V533.2h-2ZM463 533.2h2V555.5h-2ZM465 554.6h2V558.3h-2ZM469 558.3h2V562.0h-2ZM472 562.0h2V565.7h-2ZM474 564.8h2V580.6h-2ZM478 570.3h2V572.2h-2ZM480 570.3h2V574.1h-2ZM483 574.1h2V582.4h-2ZM485 582.4h2V590.8h-2ZM487 590.3h2V602.3h-2ZM489 603.1h2V632.2h-2ZM491 627.9h2V631.3h-2ZM502 586.1h2V617.6h-2ZM507 593.8h2V597.2h-2ZM509 594.6h2V598.0h-2ZM514 576.7h2V579.2h-2ZM516 578.4h2V600.6h-2ZM518 600.6h2V603.1h-2ZM520 603.1h2V606.6h-2ZM525 589.5h2V598.0h-2ZM529 595.5h2V628.7h-2ZM531 627.9h2V633.9h-2ZM536 627.0h2V630.4h-2ZM538 631.3h2V647.5h-2ZM540 646.7h2V656.9h-2ZM545 639.0h2V653.5h-2ZM549 650.1h2V662.9h-2ZM554 661.2h2V693.6h-2ZM558 648.4h2V655.2h-2ZM565 654.3h2V674.8h-2ZM571 619.4h2V624.5h-2ZM574 620.2h2V628.7h-2ZM578 620.2h2V644.1h-2ZM582 613.4h2V615.1h-2ZM585 612.5h2V616.8h-2ZM587 615.1h2V618.5h-2ZM594 594.6h2V599.7h-2ZM596 598.9h2V607.4h-2ZM603 599.7h2V603.1h-2ZM605 599.7h2V604.0h-2ZM609 592.0h2V615.9h-2ZM612 615.9h2V636.4h-2ZM620 630.3h2V667.5h-2ZM627 653.2h2V656.1h-2ZM638 603.6h2V610.3h-2ZM640 609.3h2V614.1h-2ZM643 614.1h2V622.7h-2ZM647 611.2h2V645.6h-2ZM652 608.4h2V611.2h-2ZM660 576.9h2V590.2h-2ZM665 589.3h2V591.2h-2ZM672 569.2h2V583.5h-2ZM678 507.2h2V515.8h-2ZM680 511.0h2V517.7h-2ZM687 505.3h2V514.8h-2ZM694 506.2h2V510.0h-2ZM699 508.1h2V520.5h-2ZM705 512.0h2V523.4h-2ZM707 523.4h2V528.2h-2ZM710 525.3h2V529.1h-2ZM714 523.4h2V546.3h-2ZM734 452.5h2V457.0h-2ZM737 454.7h2V465.8h-2ZM745 455.9h2V460.3h-2ZM751 439.3h2V443.7h-2ZM754 442.6h2V470.2h-2ZM756 470.2h2V490.1h-2ZM765 476.8h2V511.1h-2ZM772 503.3h2V507.8h-2ZM774 506.7h2V512.2h-2ZM777 508.9h2V516.6h-2ZM782 492.3h2V516.6h-2ZM785 515.5h2V529.9h-2ZM794 389.6h2V401.7h-2ZM800 383.0h2V385.2h-2ZM803 384.1h2V390.7h-2ZM807 360.9h2V366.4h-2ZM820 352.0h2V401.7h-2ZM823 401.7h2V452.5h-2ZM838 401.7h2V410.6h-2ZM840 408.4h2V412.8h-2ZM843 410.6h2V423.8h-2ZM852 369.9h2V387.6h-2ZM854 387.6h2V395.3h-2ZM856 395.3h2V406.4h-2ZM858 406.4h2V419.6h-2ZM860 419.6h2V448.3h-2ZM862 448.3h2V459.3h-2ZM871 440.6h2V443.9h-2ZM873 440.6h2V452.7h-2ZM876 452.7h2V484.7h-2ZM878 484.7h2V488.0h-2ZM883 485.8h2V493.6h-2ZM888 480.3h2V496.9h-2ZM892 485.8h2V493.6h-2ZM896 484.7h2V494.7h-2ZM899 492.5h2V499.1h-2ZM910 462.6h2V482.5h-2ZM912 480.3h2V488.0h-2ZM916 482.5h2V493.6h-2ZM924 491.3h2V493.6h-2ZM926 492.5h2V524.5h-2ZM931 522.3h2V525.6h-2ZM933 523.4h2V526.7h-2ZM938 507.9h2V514.5h-2ZM940 514.5h2V525.6h-2ZM943 525.6h2V554.3h-2ZM949 550.9h2V556.5h-2ZM956 523.4h2V543.2h-2ZM958 542.1h2V567.5h-2ZM963 562.0h2V567.5h-2ZM967 548.7h2V556.5h-2ZM969 556.5h2V566.4h-2ZM972 564.2h2V568.6h-2ZM980 563.2h2V575.8h-2ZM985 570.7h2V585.2h-2ZM989 585.8h2V588.3h-2ZM991 588.9h2V595.2h-2ZM994 595.2h2V598.3h-2ZM998 597.1h2V603.4h-2ZM1007 594.0h2V608.4h-2ZM1009 608.4h2V612.8h-2ZM1012 612.8h2V636.6h-2ZM1023 614.7h2V650.4h-2ZM1029 636.0h2V639.1h-2ZM1032 639.1h2V641.6h-2ZM1034 641.0h2V646.0h-2ZM1036 646.0h2V647.9h-2ZM1038 647.3h2V649.8h-2ZM1045 640.4h2V651.7h-2ZM1049 624.1h2V639.1h-2ZM1056 631.0h2V635.4h-2ZM1060 615.9h2V625.3h-2ZM1078 555.1h2V570.1h-2ZM1085 553.8h2V557.6h-2ZM1087 556.9h2V574.5h-2ZM1091 563.2h2V568.2h-2ZM1094 567.6h2V572.0h-2ZM1096 571.4h2V577.0h-2ZM1102 568.5h2V589.8h-2ZM1107 571.0h2V573.6h-2ZM1109 572.7h2V575.3h-2ZM1112 573.6h2V577.0h-2ZM1118 556.5h2V559.1h-2ZM1127 550.6h2V568.5h-2ZM1131 505.3h2V509.6h-2ZM1134 505.3h2V508.8h-2ZM1138 508.8h2V511.3h-2ZM1143 480.6h2V484.9h-2ZM1145 483.2h2V488.3h-2ZM1152 483.2h2V488.3h-2ZM1154 483.2h2V489.1h-2ZM1156 482.3h2V496.0h-2ZM1158 496.0h2V502.8h-2ZM1160 501.9h2V504.5h-2ZM1169 470.4h2V508.8h-2ZM1178 486.6h2V491.7h-2ZM1180 491.7h2V503.6h-2ZM1183 504.5h2V507.9h-2ZM1187 508.8h2V510.5h-2ZM1192 507.9h2V525.0h-2ZM1196 522.4h2V543.7h-2ZM1198 543.7h2V547.2h-2ZM1200 546.3h2V553.1h-2ZM1207 542.9h2V557.4h-2ZM1209 557.4h2V567.6h-2ZM1212 565.9h2V576.2h-2ZM1214 575.3h2V579.6h-2ZM1223 560.8h2V577.0h-2ZM1234 557.3h2V569.3h-2ZM1236 568.5h2V572.6h-2ZM1238 571.7h2V574.2h-2ZM1247 548.5h2V550.9h-2ZM1249 550.1h2V562.9h-2ZM1251 562.1h2V565.3h-2ZM1253 564.5h2V568.5h-2ZM1258 567.7h2V575.8h-2ZM1260 575.0h2V607.1h-2ZM1264 594.2h2V597.4h-2ZM1266 595.0h2V597.4h-2ZM1269 597.4h2V600.7h-2ZM1274 598.3h2V600.7h-2ZM1276 598.3h2V607.1h-2ZM1278 607.1h2V611.1h-2ZM1283 599.1h2V611.9h-2ZM1285 610.3h2V617.5h-2ZM1287 616.7h2V626.4h-2ZM1300 584.6h2V587.8h-2ZM1305 561.3h2V569.3h-2ZM1307 563.7h2V568.5h-2ZM1312 554.1h2V563.7h-2ZM1314 562.1h2V568.5h-2ZM1320 536.4h2V538.8h-2ZM1323 539.6h2V543.6h-2ZM1329 530.0h2V545.2h-2ZM1332 543.6h2V546.8h-2ZM1336 545.2h2V550.9h-2ZM1338 550.1h2V552.5h-2ZM1345 497.9h2V547.7h-2ZM1347 547.7h2V566.9h-2ZM1351 558.9h2V574.2h-2ZM1354 574.2h2V594.2h-2ZM1367 563.1h2V565.8h-2ZM1369 564.0h2V567.6h-2ZM1371 566.7h2V569.4h-2ZM1373 567.6h2V570.3h-2ZM1375 568.5h2V574.0h-2ZM1378 574.9h2V578.5h-2ZM1383 565.8h2V593.8h-2ZM1385 593.8h2V597.4h-2ZM1387 597.4h2V601.9h-2ZM1389 601.0h2V605.5h-2ZM1392 603.7h2V606.4h-2ZM1394 604.6h2V617.3h-2ZM1396 616.4h2V646.2h-2ZM1398 644.4h2V648.0h-2ZM1400 646.2h2V648.9h-2ZM1403 648.0h2V657.9h-2ZM1405 657.9h2V660.6h-2ZM1407 659.7h2V674.1h-2ZM1409 674.1h2V724.1h-2ZM1416 721.7h2V731.3h-2ZM1418 728.9h2V732.5h-2ZM1420 731.3h2V737.3h-2ZM1423 736.1h2V763.9h-2ZM1429 757.8h2V761.4h-2ZM1436 733.7h2V796.4h-2ZM1438 796.4h2V818.1h-2ZM1440 812.0h2V824.1h-2ZM1443 824.1h2V831.3h-2ZM1445 831.3h2V841.0h-2ZM1447 839.8h2V850.6h-2ZM1449 850.6h2V866.3h-2ZM1452 863.9h2V873.5h-2ZM1454 873.5h2V885.5h-2ZM1456 885.5h2V898.8h-2ZM1463 885.5h2V889.2h-2ZM1465 886.7h2V890.4h-2ZM1471 890.0h2V893.0h-2ZM1476 879.0h2V899.0h-2ZM1485 881.7h2V906.0h-2ZM1487 906.0h2V920.0h-2ZM1498 897.8h2V900.5h-2ZM1500 901.0h2V922.6h-2ZM1509 805.9h2V813.3h-2ZM1514 813.3h2V821.5h-2ZM1522 772.0h2V782.2h-2ZM1525 782.9h2V789.6h-2ZM1527 789.6h2V802.5h-2ZM1531 779.5h2V783.5h-2ZM1536 782.2h2V786.2h-2ZM1545 740.9h2V743.6h-2ZM1554 725.3h2V729.4h-2ZM1556 729.4h2V751.7h-2ZM1558 751.7h2V760.5h-2ZM1574 577.7h2V600.2h-2ZM1576 600.2h2V602.6h-2ZM1578 602.6h2V629.1h-2Z" fill="#c91f2b"/>

<!-- boxes -->
<g fill="none">
 <path d="M818.5 338 V333.5 H1733" stroke="#1e1e1e" stroke-width="1.3"/>
 <path d="M818.5 338 H1733 V333.5" stroke="#707070" stroke-width="1.6"/>
 <path d="M1344.5 497 V492 H1733" stroke="#707070" stroke-width="1.6"/>
 <path d="M1344.5 497.3 H1733 V492" stroke="#2a2a2a" stroke-width="1.3"/>
 <path d="M1555.5 710.5 V705 H1733" stroke="#707070" stroke-width="1.6"/>
 <path d="M1555.5 710.5 H1733 V705" stroke="#222" stroke-width="1.3"/>
 <path d="M1506.5 863.3 V860 H1733" stroke="#707070" stroke-width="1.6"/>
 <path d="M1506.5 863.3 H1733 V860" stroke="#111" stroke-width="1.3"/>
</g>
<!-- trend lines -->
<line x1="560.3" y1="244.6" x2="563" y2="246" stroke="#222" stroke-width="1.3"/>
<line x1="562.6" y1="246.3" x2="1294.9" y2="512.9" stroke="#ff7f12" stroke-width="4.6" stroke-linecap="round"/>
<line x1="541.5" y1="702.9" x2="1290.9" y2="639.9" stroke="#ff7f12" stroke-width="4.3" stroke-linecap="round"/>
<!-- current price -->
<path d="M1861 629 L1866.5 623.5 Q1868 621.5 1870.5 621.5 H1908 Q1910 621.5 1910 623.5 V634.5 Q1910 636.5 1908 636.5 H1870.5 Q1868 636.5 1866.5 634.5 Z" fill="#5f5aaa"/>
<text x="1907" y="632.8" font-size="10.3" font-weight="bold" fill="#fff" text-anchor="end">1924.9</text>
<!-- arrows -->
<defs><filter id="sh" x="-50%" y="-20%" width="200%" height="140%"><feDropShadow dx="0.8" dy="1" stdDeviation="0.9" flood-color="#000" flood-opacity="0.28"/></filter></defs>
<path d="M1666.8 616 L1674 543.2 L1670.3 543.2 L1679.7 531.3 L1685.8 545.6 L1682.2 544.6 Z" fill="#2f9b73" filter="url(#sh)"/>
<path d="M1663.7 639.5 L1674.5 686.7 L1671.3 687.5 L1682.6 697.5 L1686.2 682.7 L1683.4 685.5 Z" fill="#ff160a" filter="url(#sh)"/>
<!-- axes -->
<rect x="1860" y="99" width="1" height="882" fill="#808080"/>
<rect x="0" y="980" width="1861" height="1" fill="#808080"/>
<g font-size="12.4" fill="#4a4a4a">
<rect x="107" y="980" width="1" height="6" fill="#777"/><text x="107.5" y="995.7" text-anchor="middle">14</text>
<rect x="282" y="980" width="1" height="6" fill="#777"/><text x="282.5" y="995.7" text-anchor="middle">Jun</text>
<rect x="403" y="980" width="1" height="6" fill="#777"/><text x="403.5" y="995.7" text-anchor="middle">14</text>
<rect x="573" y="980" width="1" height="6" fill="#777"/><text x="573.5" y="995.7" text-anchor="middle">Jul</text>
<rect x="696" y="980" width="1" height="6" fill="#777"/><text x="696.5" y="995.7" text-anchor="middle">14</text>
<rect x="855" y="980" width="1" height="6" fill="#777"/><text x="855.5" y="995.7" text-anchor="middle">Aug</text>
<rect x="976" y="980" width="1" height="6" fill="#777"/><text x="976.5" y="995.7" text-anchor="middle">14</text>
<rect x="1109" y="980" width="1" height="6" fill="#777"/><text x="1109.5" y="995.7" text-anchor="middle">28</text>
<rect x="1162" y="980" width="1" height="6" fill="#777"/><text x="1162.5" y="995.7" text-anchor="middle">Sept</text>
<rect x="1283" y="980" width="1" height="6" fill="#777"/><text x="1283.5" y="995.7" text-anchor="middle">14</text>
<rect x="1439" y="980" width="1" height="6" fill="#777"/><text x="1439.5" y="995.7" text-anchor="middle">Oct</text>
<rect x="1573" y="980" width="1" height="6" fill="#777"/><text x="1573.5" y="995.7" text-anchor="middle">14</text>
<rect x="1734" y="980" width="1" height="6" fill="#777"/><text x="1734.5" y="995.7" text-anchor="middle">28</text>
<rect x="1788" y="980" width="1" height="6" fill="#777"/><text x="1788.5" y="995.7" text-anchor="middle">Nov</text>
</g>
<g font-size="10" fill="#222">
<rect x="1861" y="248" width="3" height="1" fill="#777"/><text x="1866" y="251.6">2050</text>
<rect x="1861" y="400" width="3" height="1" fill="#777"/><text x="1866" y="403.6">2000</text>
<rect x="1861" y="553" width="3" height="1" fill="#777"/><text x="1866" y="556.6">1950</text>
<rect x="1861" y="705" width="3" height="1" fill="#777"/><text x="1866" y="708.6">1900</text>
<rect x="1861" y="857" width="3" height="1" fill="#777"/><text x="1866" y="860.6">1850</text>
</g>
<!-- stats -->
<g font-size="10" fill="#999">
 <text x="10.4" y="953">TODAY:</text><text x="10.4" y="966.7">CHART:</text>
 <text x="63.3" y="953">H:</text><text x="63.3" y="966.7">H:</text>
 <text x="117.5" y="953">L:</text><text x="117.5" y="966.7">L:</text>
</g>
<g font-size="10" fill="#222">
 <text x="77" y="953">1944.3</text><text x="77" y="966.7">2085.0</text>
 <text x="128.6" y="953">1924.5</text><text x="128.6" y="966.7">1823.6</text>
</g>
<g font-size="10" fill="#c9343f">
 <text x="173.4" y="953">-16.4</text><text x="173.4" y="966.7">-99.5</text>
 <text x="210.4" y="953">-0.8%</text><text x="210.4" y="966.7">-4.9%</text>
</g>
<!-- drawing tools -->
<rect x="1568" y="945" width="288" height="30" fill="#fff" fill-opacity="0.85"/>
<g fill="#666" stroke="#666">
 <path d="M1576 955.7 L1582.6 961.6" stroke-width="3.5" stroke-linecap="butt"/>
 <path d="M1579.1 963.6 L1585.2 958.1 L1587.2 965.4 Z" stroke="none"/>
 <path d="M1600.5 966 C1598 960 1601 958.5 1605 958.5 C1611 958.5 1613 956 1612.3 952.3" fill="none" stroke-width="2.2" stroke-linecap="round"/>
 <rect x="1620" y="950" width="20" height="2" stroke="none"/>
 <rect x="1620" y="968" width="20" height="2" stroke="none"/>
 <path d="M1620 955.5 h3.5 M1627.5 955.5 h4.5 M1636 955.5 h4 M1620 965.5 h3.5 M1627.5 965.5 h4.5 M1636 965.5 h4" stroke-width="2"/>
 <path d="M1620 960.5 h3.5 M1627.5 960.5 h4.5 M1636 960.5 h4" stroke="#bbb" stroke-width="2"/>
 <path d="M1644.8 950 V969.3 H1664 M1644.8 969.3 L1654.5 952.7 M1644.8 969.3 L1662 959" fill="none" stroke-width="1.2"/>
 <path d="M1668 959.6 H1688" stroke-width="1.6"/>
 <path d="M1692.5 952.5 L1709 967.5" stroke-width="1.5"/>
 <rect x="1692.3" y="950" width="4.3" height="4.3" rx="0.6" stroke="none"/>
 <circle cx="1709.5" cy="967.5" r="2.2" stroke="none"/>
 <rect x="1718.5" y="952.5" width="15" height="15" fill="none" stroke-width="1.1"/>
 <path d="M1741 963.3 H1759" stroke-width="1"/>
 <path d="M1767.2 966.2 L1780.5 953.3" stroke-width="1.4"/>
 <path d="M1797.9 951.4 V969.6" stroke="#888" stroke-width="2"/>
 <path d="M1814.5 965 L1828 953" stroke-width="5"/>
 <path d="M1815.6 964.3 l1.3 1.5 M1817.8 962.4 l1.3 1.5 M1820 960.4 l1.3 1.5 M1822.2 958.5 l1.3 1.5 M1824.4 956.5 l1.3 1.5" stroke="#fff" stroke-width="0.7"/>
 <path d="M1842 960 m-4 -4 l8 8 m0 -8 l-8 8" stroke="#a0a0a0" stroke-width="2.6"/>
</g>
<text x="1741.5" y="961.5" font-size="9.3" fill="#777">Abc</text>
</svg>
</body></html>
